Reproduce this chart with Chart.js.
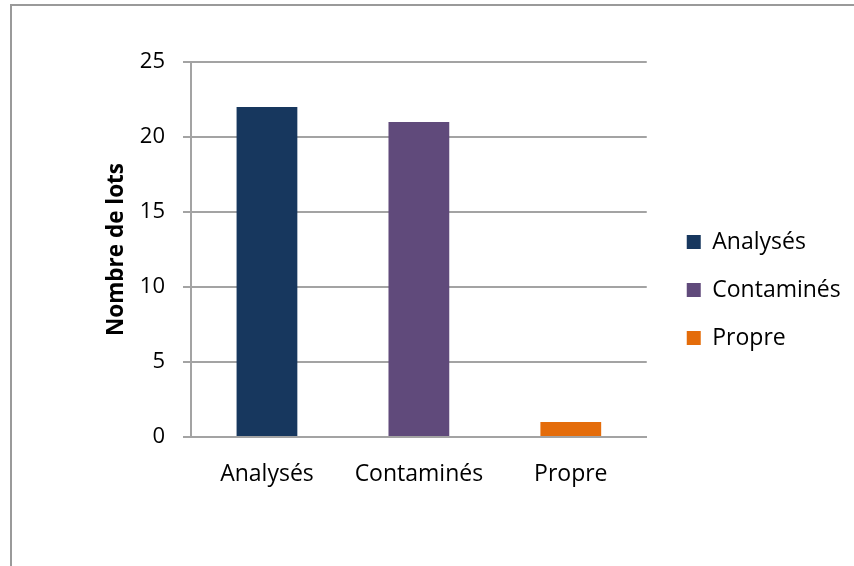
<!DOCTYPE html>
<html>
<head>
<meta charset="utf-8">
<script src="https://cdn.jsdelivr.net/npm/chart.js@4/dist/chart.umd.min.js"></script>
<style>
  html, body { margin: 0; padding: 0; background: #ffffff; }
  #wrap { position: relative; width: 854px; height: 566px; overflow: hidden; }
  #frame {
    position: absolute; left: 10px; top: 4px; width: 900px; height: 600px;
    border-left: 2px solid #9a9a9a; border-top: 2px solid #9a9a9a;
  }
  canvas { position: absolute; left: 0; top: 0; }
</style>
</head>
<body>
<div id="wrap">
  <div id="frame"></div>
  <canvas id="c" width="854" height="566"></canvas>
</div>
<script>
// Lots: analysed, contaminated, clean
const categories = ['Analysés', 'Contaminés', 'Propre'];
const lotCounts = [22, 21, 1];
const barColors = ['#17375E', '#604A7B', '#E46C0A'];
const yTicks = [0, 5, 10, 15, 20, 25];
const yTitle = 'Nombre de lots';

const FONT = "'Open Sans', 'Liberation Sans', sans-serif";
const GRID = '#a3a3a3';

// Moves the legend box away from the plot area and up a little
const legendShift = {
  id: 'legendShift',
  afterLayout(chart, args, opts) {
    const l = chart.legend;
    if (!l) return;
    l.left += opts.dx;
    l.right += opts.dx;
    l.top += opts.dy;
    l.bottom += opts.dy;
  }
};

new Chart(document.getElementById('c'), {
  type: 'bar',
  data: {
    labels: categories,
    datasets: [{
      label: yTitle,
      data: lotCounts,
      backgroundColor: barColors,
      borderWidth: 0,
      barPercentage: 0.4,
      categoryPercentage: 1.0
    }]
  },
  plugins: [legendShift],
  options: {
    responsive: false,
    animation: false,
    events: [],
    layout: { padding: { left: 103, top: 62, right: 26, bottom: 0 } },
    plugins: {
      tooltip: { enabled: false },
      legendShift: { dx: 15, dy: -24 },
      legend: {
        position: 'right',
        align: 'center',
        labels: {
          boxWidth: 14,
          boxHeight: 14,
          padding: 25,
          color: '#000000',
          font: { family: FONT, size: 23 },
          generateLabels(chart) {
            const ds = chart.data.datasets[0];
            return chart.data.labels.map((name, i) => ({
              text: name,
              fillStyle: ds.backgroundColor[i],
              strokeStyle: ds.backgroundColor[i],
              lineWidth: 0,
              hidden: false,
              index: i,
              datasetIndex: 0
            }));
          }
        }
      }
    },
    scales: {
      x: {
        grid: { display: false, drawTicks: false },
        border: { display: true, color: GRID, width: 2 },
        ticks: { color: '#000000', padding: 24, font: { family: FONT, size: 23 } },
        afterFit(scale) { scale.height = 129; }
      },
      y: {
        min: 0,
        max: 25,
        afterBuildTicks(scale) { scale.ticks = yTicks.map(v => ({ value: v })); },
        grid: { color: GRID, lineWidth: 2, tickLength: 8, drawTicks: true },
        border: { display: true, color: GRID, width: 2 },
        ticks: { color: '#000000', padding: 18, font: { family: FONT, size: 22 } },
        title: {
          display: true,
          text: yTitle,
          color: '#000000',
          font: { family: FONT, size: 22.5, weight: 'bold' },
          padding: { top: 0, bottom: 0 }
        },
        afterFit(scale) { scale.width = 88; }
      }
    }
  }
});
</script>
</body>
</html>
